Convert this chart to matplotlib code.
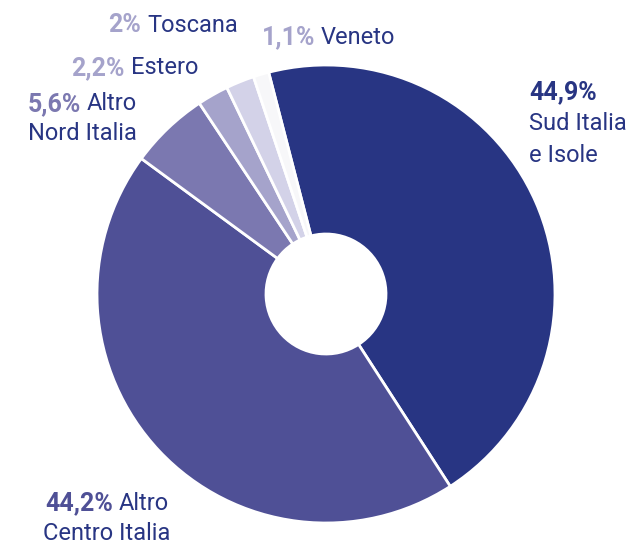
import matplotlib
matplotlib.use("Agg")
from matplotlib import pyplot as plt

# data
regions = ['Sud Italia\ne Isole', 'Altro\nCentro Italia', 'Altro\nNord Italia', 'Estero', 'Toscana', 'Veneto']
shares = [44.9, 44.2, 5.6, 2.2, 2.0, 1.1]
pct_labels = ['44,9%', '44,2%', '5,6%', '2,2%', '2%', '1,1%']
colors = ['#283583', '#4f5096', '#7b78b0', '#a5a3cb', '#d3d2e8', '#f7f7f9']
pct_colors = ['#283583', '#4f5096', '#7b78b0', '#a5a3cb', '#a5a3cb', '#a5a3cb']
name_color = '#283583'

W, H = 630, 546
fig = plt.figure(figsize=(W / 100, H / 100), dpi=100)
plt.rcParams['font.family'] = ['Roboto', 'DejaVu Sans']

cx, cy, r = 326, 294, 229
ax = fig.add_axes([(cx - r) / W, (H - cy - r) / H, 2 * r / W, 2 * r / H])
ax.pie(shares, colors=colors, startangle=104.5, counterclock=False,
       radius=1, wedgeprops=dict(width=1 - 60 / 229, edgecolor='white', linewidth=2))
ax.set_xlim(-1, 1)
ax.set_ylim(-1, 1)
ax.set_aspect('equal')
ax.axis('off')

fs = 17
fs_pct = 18


def px(x, y):
    return x / W, 1 - y / H


def label(i, x_split, y, first):
    # bold percentage to the left of x_split, name to the right
    fig.text(*px(x_split - 3, y), pct_labels[i], ha='right', va='center',
             fontsize=fs_pct, fontweight='bold', color=pct_colors[i])
    fig.text(*px(x_split + 3, y), first, ha='left', va='center',
             fontsize=fs, color=name_color)


# Sud Italia e Isole
fig.text(*px(529, 92), pct_labels[0], ha='left', va='center', fontsize=fs_pct,
         fontweight='bold', color=pct_colors[0])
fig.text(*px(529, 124), 'Sud Italia', ha='left', va='center', fontsize=fs, color=name_color)
fig.text(*px(529, 155), 'e Isole', ha='left', va='center', fontsize=fs, color=name_color)

# Altro Centro Italia
label(1, 116, 503, 'Altro')
fig.text(*px(43, 534), 'Centro Italia', ha='left', va='center', fontsize=fs, color=name_color)

# Altro Nord Italia
label(2, 84, 104, 'Altro')
fig.text(*px(137, 134), 'Nord Italia', ha='right', va='center', fontsize=fs, color=name_color)

# Estero, Toscana, Veneto
label(3, 128, 68, 'Estero')
label(4, 144, 25, 'Toscana')
label(5, 318, 37, 'Veneto')

fig.savefig('out.png', dpi=100, facecolor='white')
